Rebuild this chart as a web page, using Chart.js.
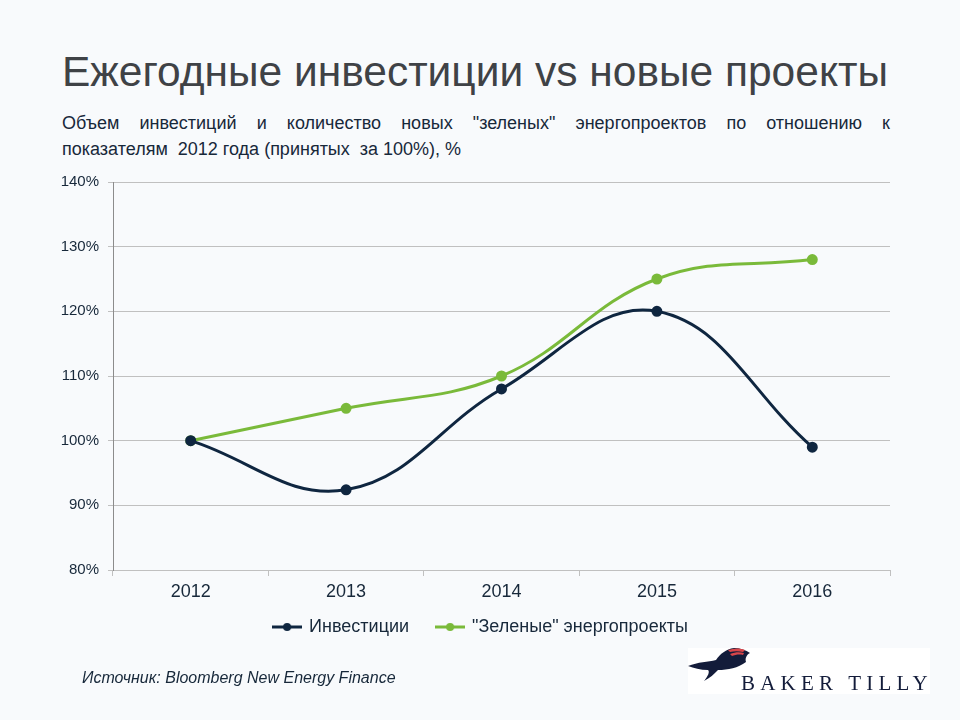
<!DOCTYPE html>
<html>
<head>
<meta charset="utf-8">
<script src="https://cdn.jsdelivr.net/npm/chart.js@4/dist/chart.umd.min.js"></script>
<style>
  html, body { margin: 0; padding: 0; }
  body { width: 960px; height: 720px; background: #f8fafc; position: relative; overflow: hidden;
         font-family: "Liberation Sans", Arial, sans-serif; }
  #title { position: absolute; left: 62px; top: 48px; font-size: 42.5px; color: #3f4246; white-space: nowrap; }
  .sub { position: absolute; left: 62px; font-size: 18px; line-height: 26px; color: #17283a; white-space: nowrap; }
  #sub1 { top: 110px; width: 828px; white-space: normal; text-align: justify; text-align-last: justify; }
  #sub2 { top: 136px; }
  #chartBox { position: absolute; left: 0; top: 164px; width: 960px; height: 510px; }
  #source { position: absolute; left: 82px; top: 669px; font-size: 16px; font-style: italic; color: #17283a; }
  #logo { position: absolute; left: 688px; top: 648px; width: 242px; height: 46px; background: #fff; }
  #logo svg { position: absolute; left: 0; top: 0; }
  #logoText { position: absolute; left: 53px; top: 23px; font-family: "Liberation Serif", "DejaVu Serif", serif;
              font-size: 21px; letter-spacing: 5.2px; color: #131c3a; white-space: nowrap; }
</style>
</head>
<body>

<div id="title">Ежегодные инвестиции vs новые проекты</div>
<div class="sub" id="sub1">Объем инвестиций и количество новых "зеленых" энергопроектов по отношению к</div>
<div class="sub" id="sub2">показателям&nbsp; 2012 года (принятых&nbsp; за 100%), %</div>

<div id="chartBox"><canvas id="chart"></canvas></div>

<div id="source">Источник: Bloomberg New Energy Finance</div>

<div id="logo">
  <svg width="70" height="40" viewBox="0 0 70 40">
    <path d="M0 18 C10 14 20 14 28 12 C32 6 38 1 46 0 C52 0 58 2 62 5 C58 7 57 11 58 14 C50 20 40 22 30 22 C26 26 22 30 16 33 C20 28 22 24 20 22 C12 22 6 20 0 18 Z" fill="#131c3a"/>
    <path d="M40 2 C46 0 52 0 57 2 L55 4 C51 3 46 3 42 4 Z" fill="#d9464a"/>
    <path d="M42 6 C47 4 52 4 56 5 L55 7 C51 6 47 7 44 8 Z" fill="#d9464a"/>
  </svg>
  <div id="logoText">BAKER TILLY</div>
</div>

<script>
const years = ["2012", "2013", "2014", "2015", "2016"];
const investments = [100, 92.4, 108, 120, 99];
const greenProjects = [100, 105, 110, 125, 128];
const seriesNames = ["Инвестиции", "\"Зеленые\" энергопроекты"];

const NAVY = "#0f2640";
const GREEN = "#7aba3a";
const TEXT = "#17283a";
const GRID = "#c0c0c0";

// legend marker: short line with a dot in the middle
function legendMarker(color){
    const c = document.createElement("canvas");
    c.width = 30;
    c.height = 10;
    const g = c.getContext("2d");
    g.strokeStyle = color;
    g.lineWidth = 3;
    g.beginPath();
    g.moveTo(0, 5);
    g.lineTo(30, 5);
    g.stroke();
    g.fillStyle = color;
    g.beginPath();
    g.arc(15, 5, 4, 0, Math.PI * 2);
    g.fill();
    return c;
}

const markers = [legendMarker(NAVY), legendMarker(GREEN)];

// move the legend up under the year labels and centre it like the original
const legendPlace = {
    id: "legendPlace",
    afterLayout(chart){
        const lg = chart.legend;
        const h = lg.bottom - lg.top;
        lg.top = chart.scales.x.bottom - 20;
        lg.bottom = lg.top + h;
        lg.left += 36;
        lg.right += 36;
    }
};

new Chart(document.getElementById("chart"), {
    type: "line",
    data: {
        labels: years,
        datasets: [
            {
                label: seriesNames[0],
                data: investments,
                borderColor: NAVY,
                backgroundColor: NAVY,
                borderWidth: 3,
                pointRadius: 4,
                tension: 0.4
            },
            {
                label: seriesNames[1],
                data: greenProjects,
                borderColor: GREEN,
                backgroundColor: GREEN,
                borderWidth: 3,
                pointRadius: 4,
                tension: 0.4
            }
        ]
    },
    plugins: [legendPlace],
    options: {
        responsive: true,
        maintainAspectRatio: false,
        animation: false,
        layout: { padding: { left: 0, right: 70, top: 6, bottom: 8 } },
        plugins: {
            legend: {
                position: "bottom",
                labels: {
                    usePointStyle: true,
                    pointStyleWidth: 26,
                    color: TEXT,
                    font: { size: 18, family: "Liberation Sans" },
                    padding: 28,
                    boxHeight: 10,
                    generateLabels: chart => {
                        const items = Chart.defaults.plugins.legend.labels.generateLabels(chart);
                        items.forEach((it, i) => { it.pointStyle = markers[i]; });
                        return items;
                    }
                }
            },
            tooltip: { enabled: false }
        },
        scales: {
            x: {
                offset: true,
                grid: { offset: true, drawOnChartArea: false, color: GRID, tickLength: 6 },
                border: { color: GRID },
                ticks: { color: TEXT, font: { size: 18, family: "Liberation Sans" }, padding: 5 },
                afterFit: s => { s.height = 40; }
            },
            y: {
                min: 80,
                max: 140,
                grid: { color: GRID, tickLength: 5 },
                border: { color: "#8c8c8c" },
                ticks: {
                    stepSize: 10,
                    color: TEXT,
                    font: { size: 15, family: "Liberation Sans" },
                    padding: 9,
                    callback: v => v + "%"
                },
                afterFit: s => { s.width = 113; }
            }
        }
    }
});
</script>
</body>
</html>
